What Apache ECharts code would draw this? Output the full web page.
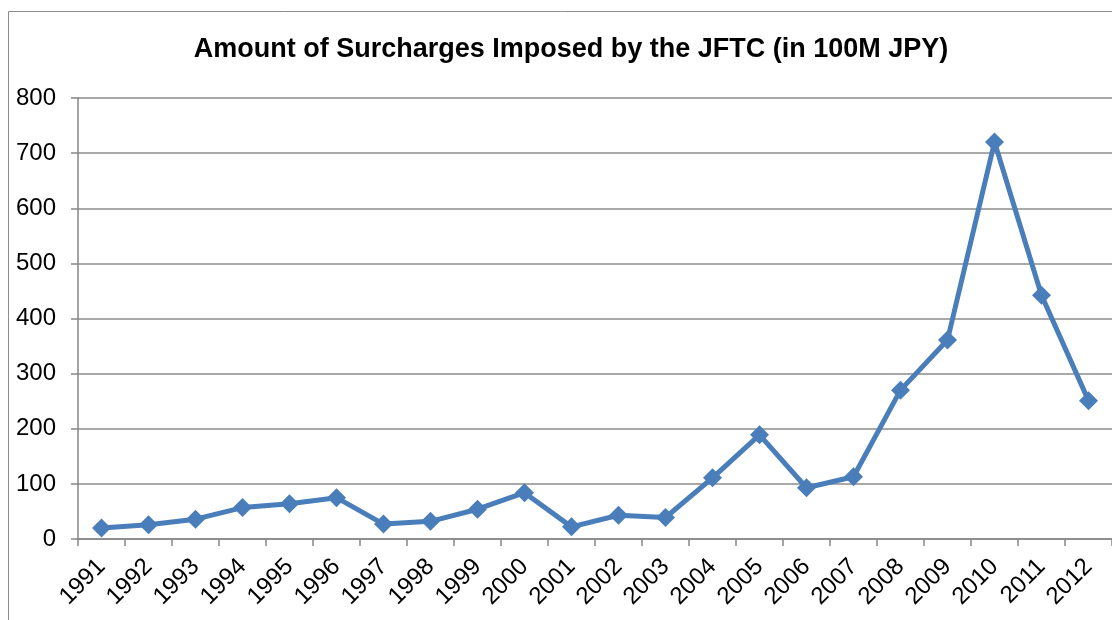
<!DOCTYPE html>
<html>
<head>
<meta charset="utf-8">
<script src="https://cdn.jsdelivr.net/npm/echarts@6/dist/echarts.min.js"></script>
<style>
  html, body { margin: 0; padding: 0; background: #fff; }
  #chart { width: 1112px; height: 620px; }
</style>
</head>
<body>
<div id="chart"></div>
<script>
// 年份与金额（亿日元）
const years = ['1991', '1992', '1993', '1994', '1995', '1996', '1997', '1998', '1999', '2000', '2001',
  '2002', '2003', '2004', '2005', '2006', '2007', '2008', '2009', '2010', '2011', '2012']
const amounts = [20, 26, 36, 57, 64, 75, 27, 32, 54, 84, 22, 43, 39, 111, 189, 93, 113, 270, 361, 720, 442, 251]

const chart = echarts.init(document.getElementById('chart'))
const font = 'Liberation Sans, Arial, sans-serif'

chart.setOption({
  animation: false,
  textStyle: { fontFamily: font },
  graphic: [
    {
      type: 'rect',
      shape: { x: 8.5, y: 11.5, width: 1200, height: 700 },
      style: { fill: null, stroke: '#8c8c8c', lineWidth: 1 },
      silent: true,
    },
  ],
  title: {
    text: 'Amount of Surcharges Imposed by the JFTC (in 100M JPY)',
    left: 566,
    textAlign: 'center',
    top: 31,
    textStyle: { fontSize: 27, fontWeight: 'bold', color: '#000', fontFamily: font },
  },
  grid: { left: 78, right: 0, top: 98, bottom: 81, containLabel: false },
  xAxis: {
    type: 'category',
    data: years,
    boundaryGap: true,
    axisLine: { lineStyle: { color: '#868686', width: 1.5 } },
    axisTick: { show: true, length: 7, lineStyle: { color: '#868686', width: 1.5 } },
    axisLabel: { rotate: 45, fontSize: 24, color: '#000', margin: 24, interval: 0, fontFamily: font },
  },
  yAxis: {
    type: 'value',
    min: 0,
    max: 800,
    interval: 100,
    axisLine: { show: true, lineStyle: { color: '#868686', width: 1.5 } },
    axisTick: { show: true, length: 7, lineStyle: { color: '#868686', width: 1.5 } },
    axisLabel: { fontSize: 24, color: '#000', margin: 22, fontFamily: font },
    splitLine: { lineStyle: { color: '#8c8c8c', width: 1.5 } },
  },
  series: [
    {
      type: 'line',
      data: amounts,
      symbol: 'diamond',
      symbolSize: 19,
      lineStyle: { color: '#4a7ebb', width: 5 },
      itemStyle: { color: '#4a7ebb' },
    },
  ],
})
</script>
</body>
</html>
